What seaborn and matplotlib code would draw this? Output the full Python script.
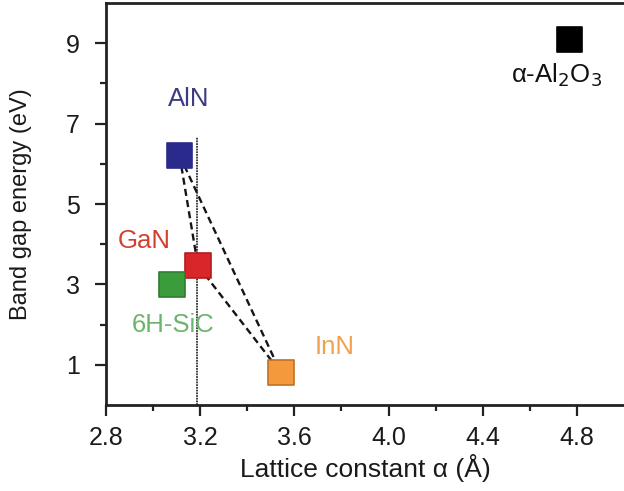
import matplotlib
matplotlib.use("Agg")
import matplotlib.pyplot as plt
import seaborn as sns
import pandas as pd

materials = ["AlN", "GaN", "6H-SiC", "InN", "α-Al$_2$O$_3$"]
lattice = [3.112, 3.19, 3.08, 3.542, 4.768]
bandgap = [6.21, 3.47, 3.0, 0.81, 9.09]
colors = ["#2a2a8c", "#d8262a", "#3a9c3a", "#f59a3c", "#000000"]
edgecols = ["#2a2a8c", "#b01e20", "#2f7f2f", "#c07028", "#000000"]
label_colors = ["#3c3c82", "#d4402e", "#6cb46c", "#f0a24e", "#111111"]
label_pos = [(3.152, 7.6), (2.962, 4.07), (3.084, 2.0), (3.77, 1.44), (4.715, 8.2)]

x_ticks = [2.8, 3.2, 3.6, 4.0, 4.4, 4.8]
y_ticks = [1, 3, 5, 7, 9]

df = pd.DataFrame({"material": materials, "a": lattice, "Eg": bandgap})

sns.set_style("ticks")
plt.rcParams["font.family"] = ["Liberation Sans", "DejaVu Sans"]

fig = plt.figure(figsize=(6.24, 4.91), dpi=100)
ax = fig.add_axes([0.170, 0.175, 0.830, 0.819])

# tie lines between nitrides
tri = [0, 1, 3]
for i in range(3):
    for j in range(i + 1, 3):
        p, q = tri[i], tri[j]
        ax.plot([lattice[p], lattice[q]], [bandgap[p], bandgap[q]],
                ls=(0, (3, 1.8)), color="#151515", lw=1.7, zorder=2)

# vertical reference line at GaN lattice constant
ax.plot([3.188, 3.188], [0, 6.66], color="#333333", lw=1.3, ls=(0, (1, 0.5)), zorder=1)

sns.scatterplot(data=df, x="a", y="Eg", hue="material", palette=colors,
                marker="s", s=340, edgecolor=edgecols, linewidth=1.2,
                legend=False, ax=ax, zorder=3)

for name, (lx, ly), c in zip(materials, label_pos, label_colors):
    ax.text(lx, ly, name, color=c, fontsize=18.5, ha="center", va="center")

ax.set_xlim(2.8, 5.0)
ax.set_ylim(0, 10)
ax.set_xticks(x_ticks)
ax.set_xticklabels([f"{v:.1f}" for v in x_ticks])
ax.set_yticks(y_ticks)
ax.set_xticks([3.0, 3.4, 3.8, 4.2, 4.6], minor=True)
ax.set_yticks([2, 4, 6, 8], minor=True)
ax.tick_params(which="major", length=8, width=1.6, labelsize=18, direction="out",
               color="#222222", labelcolor="#1a1a1a")
ax.tick_params(axis="y", which="major", pad=11)
ax.tick_params(axis="x", which="major", pad=7)
ax.tick_params(which="minor", length=4.5, width=1.6, direction="out", color="#222222")
ax.set_xlabel("Lattice constant α (Å)", fontsize=19, labelpad=3, color="#1a1a1a")
ax.set_ylabel("Band gap energy (eV)", fontsize=17, labelpad=24, color="#1a1a1a")

for s in ["left", "bottom", "top"]:
    ax.spines[s].set_linewidth(2)
    ax.spines[s].set_color("#222222")
ax.spines["right"].set_visible(False)

fig.savefig("out.png", dpi=100)
